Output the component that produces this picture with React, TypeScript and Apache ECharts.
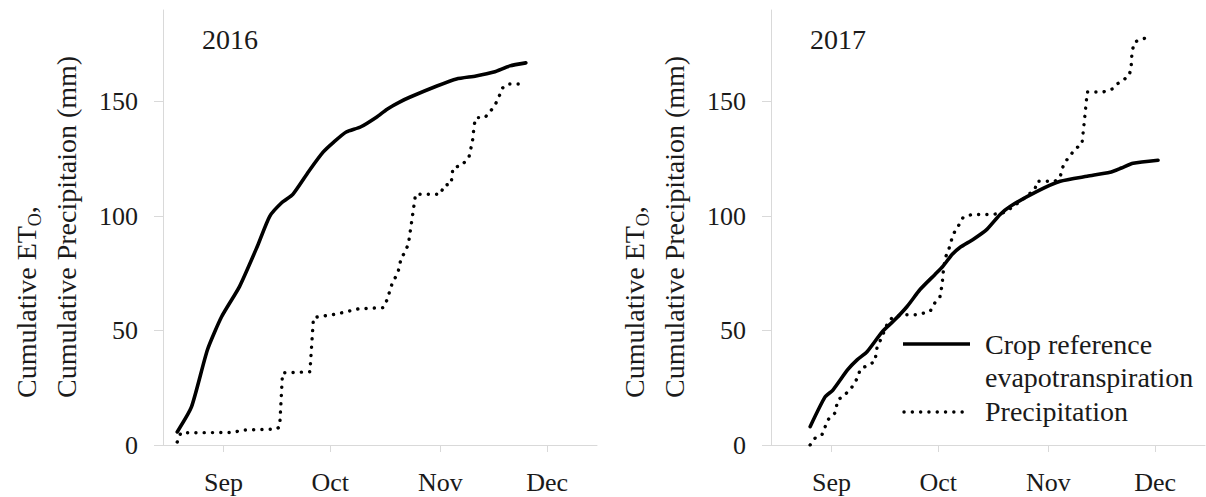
import React, { useEffect, useRef } from "react";
import * as echarts from "echarts";

// x = days after 1 September; y = cumulative mm
const monthTicks = [0, 30, 61, 91];
const monthLabels = ["Sep", "Oct", "Nov", "Dec"];
const yTicks = [0, 50, 100, 150];
const years = ["2016", "2017"];

const et2016: number[][] = [
  [-13, 5.7], [-9, 16.6], [-4.5, 41.6], [-0.5, 56.1], [4.5, 69.2], [9.5, 86.7], [13, 99.9],
  [16.5, 106], [19.5, 109.5], [24, 119.6], [28, 127.9], [31, 132.3], [34.5, 136.7],
  [38.5, 138.9], [43, 143.2], [46, 146.7], [49.5, 149.8], [52.5, 152], [60, 156.8],
  [65.5, 159.9], [71, 161.2], [76, 162.9], [80.5, 165.6], [85, 166.9],
];

const precip2016: number[][] = [
  [-13, 1.3], [-12, 5.3], [3, 5.5], [5, 6.5], [15, 7], [15.8, 8], [16.6, 31.5], [24.3, 32],
  [25.3, 55.6], [26.6, 56], [31, 57], [34, 58], [38, 59.5], [45, 60], [46, 63.5], [47.5, 71],
  [49, 75], [50, 82], [51, 84], [52, 88], [53, 98.6], [54, 109.5], [61, 109.5], [62, 113.4],
  [64, 114], [64.5, 121], [67, 122.2], [69, 125.7], [70, 132.7], [70.5, 140], [71, 143],
  [73.5, 143], [75.5, 146.7], [76.5, 149], [77.5, 152.4], [78.5, 156], [80, 157.7], [85, 157.7],
];

const et2017: number[][] = [
  [-6, 8], [-1.8, 21], [0.4, 24], [4.5, 32.8], [7.2, 37.2], [10, 40.7], [14.3, 49.5],
  [17.3, 53.9], [21.2, 60.4], [24.9, 67.9], [29.1, 74.5], [31.3, 78], [33.9, 83.2],
  [36.1, 86.3], [39.8, 89.8], [43.7, 94.2], [47.4, 100.7], [50.2, 104.2], [57.8, 110.8],
  [64.3, 115.2], [71.9, 117.4], [78.3, 119.1], [81.5, 121], [84.8, 123.1], [91.8, 124.4],
];

const precip2017: number[][] = [
  [-6, 0], [-4.6, 3], [-2.7, 4.4], [-1, 11], [1, 14], [1.8, 19.7], [3.8, 21.9], [5.8, 25.4],
  [7.5, 29.8], [8, 32.9], [10.3, 35], [12.2, 36.4], [12.8, 42.5], [14.2, 47.3], [15.6, 52.6],
  [17.3, 56.1], [21.2, 56.9], [24, 56.9], [27.7, 58.3], [29.1, 62.2], [30.5, 64.8],
  [31.1, 70.1], [31.4, 75.3], [32, 81.9], [32.8, 84.5], [34.2, 92], [35.6, 95.5], [37, 99.4],
  [39.5, 100.7], [45.4, 100.7], [48.8, 101.6], [53.8, 107.3], [57.2, 111.7], [57.8, 115.2],
  [62.8, 115.2], [64.3, 117], [64.8, 120.5], [65.6, 123.5], [67, 126.1], [68.4, 129.2],
  [70.4, 131.4], [71.2, 143.2], [71.9, 154.2], [76.4, 154.2], [78.9, 155.5], [80.3, 157.7],
  [82, 159.4], [83.6, 161.2], [84.2, 164.3], [84.5, 172.1], [85.3, 176.1], [87.6, 177.4],
  [90.1, 178.7],
];

const legendNames = ["Crop reference", "evapotranspiration", "Precipitation"];

const FONT = "'Liberation Serif', 'Times New Roman', serif";
const AXIS_GRAY = "#d9d9d9";
const TEXT = "#1a1a1a";
const DOT_DASH = [0.1, 8.2];

export default function App() {
  const ref = useRef<HTMLDivElement>(null);

  useEffect(() => {
    if (!ref.current) return;
    const chart = echarts.init(ref.current, undefined, { renderer: "svg" });

    const grids = [
      { left: 163, top: 10, width: 434, height: 435 },
      { left: 771, top: 10, width: 434, height: 435 },
    ];

    const noSplit = { show: false, lineStyle: { color: "rgba(0,0,0,0)", width: 0, opacity: 0 } };

    const xAxes = grids.map((_, i) => ({
      type: "value",
      gridIndex: i,
      min: -17,
      max: 105,
      splitLine: noSplit,
      minorSplitLine: { show: false },
      axisLine: { show: true, onZero: false, lineStyle: { color: AXIS_GRAY, width: 1 } },
      axisTick: {
        show: true,
        customValues: monthTicks,
        length: 7,
        inside: false,
        lineStyle: { color: AXIS_GRAY, width: 1 },
      },
      axisLabel: {
        customValues: monthTicks,
        formatter: (v: number) => monthLabels[monthTicks.indexOf(v)] ?? "",
        margin: 24,
        fontFamily: FONT,
        fontSize: 26,
        color: TEXT,
      },
    }));

    const yAxes = grids.map((_, i) => ({
      type: "value",
      gridIndex: i,
      min: 0,
      max: 190,
      interval: 50,
      splitLine: noSplit,
      minorSplitLine: { show: false },
      axisLine: { show: true, onZero: false, lineStyle: { color: AXIS_GRAY, width: 1 } },
      axisTick: {
        show: true,
        customValues: yTicks,
        length: 9,
        lineStyle: { color: AXIS_GRAY, width: 1 },
      },
      axisLabel: {
        customValues: yTicks,
        margin: 25,
        fontFamily: FONT,
        fontSize: 26,
        color: TEXT,
      },
    }));

    const solid = { color: "#000", width: 3.6, type: "solid", cap: "round", join: "round" };
    const dotted = { color: "#000", width: 3.4, type: DOT_DASH, cap: "round" };

    const mkSeries = (name: string, data: number[][], idx: number, style: any, smooth: number) => ({
      name,
      type: "line",
      xAxisIndex: idx,
      yAxisIndex: idx,
      data,
      symbol: "none",
      smooth,
      lineStyle: style,
    });

    const yTitle = (x: number) => [
      {
        type: "text",
        x,
        y: 398,
        rotation: Math.PI / 2,
        style: {
          text: "{a|Cumulative ET}{sub|O}{a|,}",
          align: "left",
          verticalAlign: "middle",
          fill: TEXT,
          font: `28px ${FONT}`,
          rich: {
            a: { fontFamily: FONT, fontSize: 28, lineHeight: 34, fill: TEXT },
            sub: { fontFamily: FONT, fontSize: 18, lineHeight: 18, verticalAlign: "bottom", fill: TEXT },
          },
        },
      },
      {
        type: "text",
        x: x + 40,
        y: 398,
        rotation: Math.PI / 2,
        style: {
          text: "Cumulative Precipitaion (mm)",
          align: "left",
          verticalAlign: "middle",
          fill: TEXT,
          fontFamily: FONT,
          fontSize: 28,
        },
      },
    ];

    const yearText = (x: number, t: string) => ({
      type: "text",
      x,
      y: 39.5,
      style: { text: t, fill: TEXT, fontFamily: FONT, fontSize: 28, align: "left", verticalAlign: "middle" },
    });

    const legendText = (y: number, t: string) => ({
      type: "text",
      x: 985,
      y,
      style: { text: t, fill: TEXT, fontFamily: FONT, fontSize: 28, align: "left", verticalAlign: "middle" },
    });

    chart.setOption({
      animation: false,
      backgroundColor: "#fff",
      grid: grids,
      xAxis: xAxes,
      yAxis: yAxes,
      series: [
        mkSeries("ETo 2016", et2016, 0, solid, 0.2),
        mkSeries("Precipitation 2016", precip2016, 0, dotted, 0),
        mkSeries("ETo 2017", et2017, 1, solid, 0.2),
        mkSeries("Precipitation 2017", precip2017, 1, dotted, 0),
      ],
      graphic: [
        ...yTitle(26.5),
        ...yTitle(634.5),
        yearText(202, years[0]),
        yearText(810, years[1]),
        {
          type: "line",
          shape: { x1: 903, y1: 344, x2: 970, y2: 344 },
          style: { stroke: "#000", lineWidth: 3.6 },
        },
        {
          type: "line",
          shape: { x1: 904, y1: 412, x2: 966, y2: 412 },
          style: { stroke: "#000", lineWidth: 3.4, lineDash: DOT_DASH, lineCap: "round" },
        },
        legendText(344, legendNames[0]),
        legendText(377, legendNames[1]),
        legendText(411, legendNames[2]),
      ],
    });

    return () => chart.dispose();
  }, []);

  return (
    <div
      ref={ref}
      style={{ position: "fixed", left: 0, top: 0, width: 1206, height: 497, background: "#fff" }}
    />
  );
}
